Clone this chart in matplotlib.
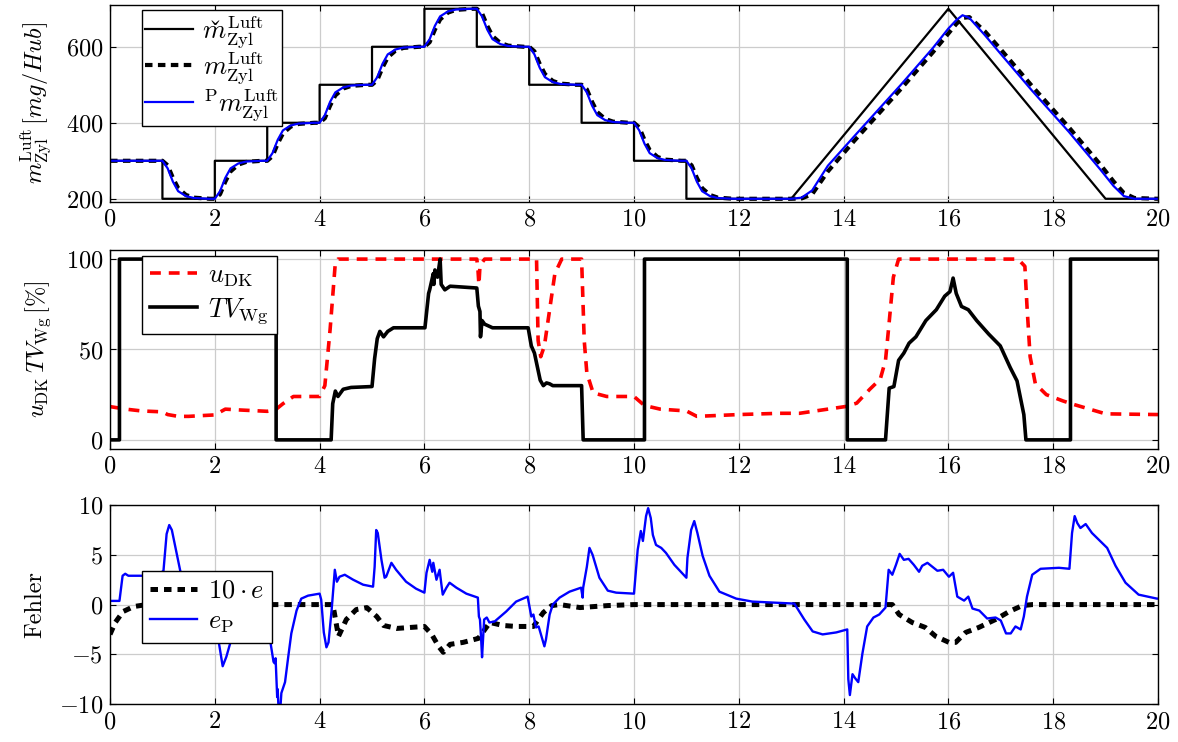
import matplotlib
matplotlib.use("Agg")
import matplotlib.pyplot as plt

plt.rcParams.update({
    "font.family": "serif",
    "font.serif": ["cmr10"],
    "mathtext.fontset": "cm",
    "axes.formatter.use_mathtext": True,
    "font.size": 17.5,
    "axes.linewidth": 1.0,
    "xtick.direction": "in",
    "ytick.direction": "in",
    "xtick.top": True,
    "ytick.right": True,
    "xtick.major.size": 4,
    "ytick.major.size": 4,
    "legend.fancybox": False,
    "legend.framealpha": 1.0,
    "legend.edgecolor": "black",
})

# --- air mass per stroke [mg/Hub] ---
t_soll = [0, 1, 1, 2, 2, 3, 3, 4, 4, 5, 5, 6, 6, 7, 7, 8, 8, 9, 9, 10, 10, 11, 11, 13, 16, 19, 20]
m_soll = [300, 300, 200, 200, 300, 300, 400, 400, 500, 500, 600, 600, 700, 700, 600, 600,
          500, 500, 400, 400, 300, 300, 200, 200, 700, 200, 200]

t_m = [0,
       1.0, 1.1, 1.2, 1.3, 1.45, 1.6, 1.9,
       2.0, 2.1, 2.2, 2.3, 2.45, 2.6, 2.9,
       3.0, 3.1, 3.2, 3.3, 3.45, 3.6, 3.9,
       4.0, 4.1, 4.2, 4.3, 4.45, 4.6, 4.9,
       5.0, 5.1, 5.2, 5.3, 5.45, 5.6, 5.9,
       6.0, 6.1, 6.2, 6.3, 6.45, 6.6, 6.9,
       7.0, 7.1, 7.2, 7.3, 7.45, 7.6, 7.9,
       8.0, 8.1, 8.2, 8.3, 8.45, 8.6, 8.9,
       9.0, 9.1, 9.2, 9.3, 9.45, 9.6, 9.9,
       10.0, 10.1, 10.2, 10.3, 10.45, 10.6, 10.9,
       11.0, 11.1, 11.2, 11.3, 11.45, 11.6, 11.9,
       13.0, 13.2, 13.4, 13.7, 14.2, 15.1, 15.7, 16.0, 16.15, 16.27, 16.4, 16.7,
       17.0, 17.6, 18.3, 18.9, 19.15, 19.35, 19.55, 20.0]
m_ist = [300,
         300, 288, 255, 228, 210, 203, 200,
         200, 212, 245, 272, 290, 297, 300,
         300, 312, 345, 372, 390, 397, 400,
         400, 412, 445, 472, 490, 497, 500,
         500, 512, 545, 572, 590, 597, 600,
         600, 612, 645, 672, 690, 697, 700,
         700, 688, 655, 628, 610, 603, 600,
         600, 588, 555, 528, 510, 503, 500,
         500, 488, 455, 428, 410, 403, 400,
         400, 388, 355, 328, 310, 303, 300,
         300, 288, 255, 228, 210, 203, 200,
         200, 201, 212, 272, 352, 490, 585, 635, 660, 676, 678, 640,
         593, 496, 388, 290, 246, 215, 202, 200]
m_modell = [300,
            300, 280, 245, 220, 207, 202, 200,
            200, 220, 255, 280, 293, 298, 300,
            300, 320, 355, 380, 393, 398, 400,
            400, 420, 455, 480, 493, 498, 500,
            500, 520, 555, 580, 593, 598, 600,
            600, 620, 655, 680, 693, 698, 700,
            700, 680, 645, 620, 607, 602, 600,
            600, 580, 545, 520, 507, 502, 500,
            500, 480, 445, 420, 407, 402, 400,
            400, 380, 345, 320, 307, 302, 300,
            300, 280, 245, 220, 207, 202, 200,
            200, 203, 222, 287, 364, 501, 596, 648, 670, 683, 676, 630,
            581, 484, 376, 277, 234, 207, 200, 200]

# --- throttle and wastegate [%] ---
t_tv = [0, 0.18, 0.18, 3.17, 3.17, 4.22, 4.25, 4.3, 4.35, 4.45, 4.6, 5.0, 5.05, 5.1, 5.15,
        5.22, 5.3, 5.41, 6.01, 6.08, 6.1, 6.17, 6.18, 6.2, 6.25, 6.3, 6.32, 6.39, 6.49,
        7.0, 7.03, 7.06, 7.07, 7.1, 7.15, 7.3, 7.98, 8.04, 8.1, 8.21, 8.27, 8.33, 8.39,
        8.45, 9.0, 9.03, 10.2, 10.2, 14.07, 14.07, 14.8, 14.87, 14.96, 15.05, 15.15,
        15.25, 15.38, 15.57, 15.77, 15.93, 16.03, 16.09, 16.15, 16.25, 16.38, 16.54,
        16.77, 16.99, 17.18, 17.31, 17.44, 17.48, 18.33, 18.33, 20]
tv_wg = [0, 0, 100, 100, 0, 0, 20, 27, 24, 28, 29, 29.5, 45, 56, 60,
         57, 60, 62, 62, 81, 83, 92, 86, 94, 90, 100, 86, 83, 85,
         84, 74, 71, 57, 66, 64, 62, 62, 52, 48, 33, 30, 31.5, 31,
         30, 30, 0, 0, 100, 100, 0, 0, 28.6, 29.5, 44, 48,
         53.5, 57, 66, 72, 79.5, 82, 89.5, 81, 73.8, 72, 66,
         58.5, 52, 40, 32.6, 14, 0, 0, 100, 100]

t_dk = [0, 0.3, 0.6, 1.0, 1.1, 1.3, 1.5, 1.8, 2.0, 2.2, 2.5, 3.0, 3.15, 3.3, 3.5, 4.0,
        4.1, 4.2, 4.3, 4.35, 7.0, 7.02, 7.04, 7.06, 7.1, 7.15, 8.14, 8.17, 8.22, 8.29,
        8.4, 8.49, 8.62, 9.0, 9.05, 9.1, 9.22, 9.48, 10.0, 10.2, 10.5, 11.0, 11.2, 12.0,
        12.78, 13.16, 14.05, 14.25, 14.5, 14.7, 14.8, 14.86, 14.95, 15.05, 17.33, 17.46,
        17.5, 17.56, 17.66, 17.87, 18.19, 18.38, 19.0, 20]
u_dk = [18.4, 17, 16, 15.5, 14, 13, 13, 13.5, 13.8, 17, 16.5, 15.8, 16.5, 20, 24, 24,
        30, 61, 98, 100, 100, 95, 86, 96, 98, 100, 100, 55, 46, 52,
        74, 92, 100, 100, 55, 37, 26, 24, 24, 19, 17, 16, 13, 14,
        14.7, 14.7, 18.5, 20.3, 28, 33.6, 44, 62, 90, 100, 100, 96,
        74, 46, 31, 25, 21.5, 19.7, 14.4, 14]

# --- errors ---
t_e = [0, 0.1, 0.25, 0.45, 0.7, 4.25, 4.28, 4.36, 4.51, 4.7, 4.9, 5.09, 5.22, 5.47, 5.73,
       6.0, 6.14, 6.27, 6.36, 6.49, 6.74, 7.03, 7.25, 7.5, 7.75, 8.08, 8.27, 8.43, 8.58,
       8.97, 9.5, 10.0, 14.93, 15.06, 15.31, 15.56, 15.76, 16.01, 16.14, 16.33, 16.58,
       16.9, 17.16, 17.41, 17.6, 20]
e_10 = [-3.0, -1.8, -0.7, -0.2, 0, 0, -0.8, -3.2, -1.5, -0.5, -0.3, -1.2, -2.1, -2.4, -2.3,
        -2.2, -3.0, -4.2, -4.8, -4.0, -3.8, -3.4, -1.8, -2.1, -2.2, -2.2, -0.8, -0.1, 0,
        -0.3, -0.1, 0, 0, -1.0, -1.8, -2.3, -3.2, -3.8, -3.8, -2.8, -2.3,
        -1.5, -0.7, -0.1, 0, 0]

t_ep = [0, 0.18, 0.24, 0.29, 0.35, 0.6, 0.9, 1.02, 1.08, 1.13, 1.18, 1.34, 1.5, 1.7, 1.9,
        2.0, 2.07, 2.15, 2.22, 2.32, 2.5, 2.8, 3.05, 3.12, 3.14, 3.16, 3.19, 3.2, 3.22,
        3.25, 3.27, 3.34, 3.4, 3.46, 3.56, 3.65, 3.78, 4.0, 4.03, 4.08, 4.13, 4.17, 4.23,
        4.29, 4.33, 4.38, 4.48, 4.64, 4.83, 5.02, 5.05, 5.08, 5.11, 5.18, 5.24, 5.27,
        5.37, 5.46, 5.65, 5.84, 6.0, 6.04, 6.1, 6.15, 6.17, 6.23, 6.26, 6.29, 6.32, 6.35,
        6.42, 6.48, 6.61, 6.8, 7.02, 7.04, 7.06, 7.08, 7.1, 7.14, 7.19, 7.24, 7.34, 7.56,
        7.75, 7.97, 8.04, 8.08, 8.13, 8.18, 8.29, 8.32, 8.39, 8.45, 8.58, 8.77, 8.99,
        9.02, 9.03, 9.1, 9.15, 9.21, 9.34, 9.5, 9.66, 10.0, 10.07, 10.13, 10.17, 10.23,
        10.27, 10.32, 10.36, 10.42, 10.52, 10.61, 10.77, 11.0, 11.02, 11.09, 11.15,
        11.21, 11.31, 11.44, 11.63, 11.95, 12.26, 13.06, 13.25, 13.41, 13.6, 13.86,
        14.07, 14.09, 14.12, 14.17, 14.22, 14.28, 14.36, 14.45, 14.57, 14.68, 14.8,
        14.86, 14.93, 15.0, 15.07, 15.15, 15.24, 15.34, 15.44, 15.5, 15.6, 15.79, 15.9,
        16.01, 16.09, 16.17, 16.3, 16.38, 16.46, 16.59, 16.74, 16.9, 17.0, 17.1, 17.19,
        17.28, 17.38, 17.44, 17.5, 17.6, 17.76, 18.11, 18.31, 18.36, 18.41, 18.46,
        18.52, 18.62, 18.74, 19.03, 19.19, 19.38, 19.63, 19.98, 20]
e_p = [0.37, 0.37, 2.9, 3.1, 2.9, 2.9, 2.9, 3.4, 7.1, 8.0, 7.5, 3.4, 1.5, 0, -1.5,
       -2.5, -3.6, -6.2, -5.25, -3.4, -2.5, -2.6, -3.4, -5.75, -5.9, -5.4, -9.3, -8.5, -11,
       -10.5, -8.9, -7.8, -5.3, -2.9, -0.6, 0.6, 0.9, 1.1, 0.5, -2.8, -4.3, -3.8, -0.5,
       3.5, 2.3, 2.8, 3.0, 2.5, 2.0, 1.8, 3.8, 7.5, 7.2, 4.5, 2.7, 2.8,
       4.2, 3.5, 2.3, 1.6, 1.2, 3.2, 4.5, 3.3, 4.2, 2.5, 3.0, 3.5, 2.2, 1.0,
       1.7, 2.2, 1.7, 1.1, 0.7, -1.2, -1.5, -3.2, -5.3, -1.5, -1.3, -1.8, -1.7, -0.7,
       0.3, 0.8, -1.2, -1.0, -2.3, -2.2, -4.2, -3.5, -1.0, 0, 0.7, 1.3, 1.7,
       0.7, 1.7, 3.8, 5.7, 5.0, 2.7, 1.4, 1.2, 1.1, 5.5, 7.4, 6.4, 8.9,
       9.7, 8.7, 7.0, 6.0, 5.7, 5.2, 4.0, 2.7, 4.7, 7.5, 8.4,
       7.2, 4.9, 2.9, 1.3, 0.6, 0.3, 0.1, -1.5, -2.7, -3.0, -2.8,
       -2.5, -7.5, -9.1, -7.0, -7.4, -7.8, -4.9, -2.2, -1.3, -1.0, -0.3,
       3.5, 3.0, 4.0, 5.1, 4.5, 4.6, 4.0, 3.3, 3.9, 4.2, 3.4, 3.5,
       2.8, 3.2, 0.8, 0.4, 0.8, -0.4, -0.6, -1.4, -1.3, -1.6, -2.9, -2.9,
       -2.2, -2.5, -1.2, 0.8, 3.0, 3.6, 3.7, 3.6, 7.2, 8.9, 8.2,
       7.7, 8.1, 7.2, 5.7, 3.9, 2.2, 1.0, 0.6, 0.6]

fig = plt.figure(figsize=(11.78, 7.42), dpi=100)
left, width = 0.0934, 0.8896
ax1 = fig.add_axes([left, 0.728, width, 0.2653])
ax2 = fig.add_axes([left, 0.395, width, 0.268])
ax3 = fig.add_axes([left, 0.0512, width, 0.268])

leg_kw = dict(loc="upper left", borderaxespad=0, handlelength=1.8, fontsize=19,
              handletextpad=0.4)

# caron over m: spacing caron, then pull the m back underneath it
ax1.plot(t_soll, m_soll, color="black", lw=1.6,
         label=r"$\hspace{0.31}\mathrm{ˇ}\hspace{-0.69}m_{\mathrm{Zyl}}^{\mathrm{Luft}}$")
ax1.plot(t_m, m_ist, color="black", lw=3.0, ls=(0, (1.8, 1.3)), label=r"$m_{\mathrm{Zyl}}^{\mathrm{Luft}}$")
ax1.plot(t_m, m_modell, color="blue", lw=1.6, label=r"${}^{\mathrm{P}}m_{\mathrm{Zyl}}^{\mathrm{Luft}}$")
ax1.set_ylim(192, 710)
ax1.set_yticks([200, 400, 600])
ax1.set_ylabel(r"$m_{\mathrm{Zyl}}^{\mathrm{Luft}}\,[mg/Hub]$", labelpad=9)
ax1.legend(bbox_to_anchor=(0.0305, 0.975), borderpad=0.12, labelspacing=0.0, **leg_kw)

ax2.plot(t_dk, u_dk, color="red", lw=2.6, ls=(0, (3, 2.2)), label=r"$u_{\mathrm{DK}}$")
ax2.plot(t_tv, tv_wg, color="black", lw=2.6, label=r"$TV_{\mathrm{Wg}}$")
ax2.set_ylim(-5, 105)
ax2.set_yticks([0, 50, 100])
ax2.set_ylabel(r"$u_{\mathrm{DK}}\,TV_{\mathrm{Wg}}\,[\%]$", labelpad=9)
ax2.legend(bbox_to_anchor=(0.0305, 0.97), borderpad=0.3, labelspacing=0.25, **leg_kw)

ax3.plot(t_e, e_10, color="black", lw=3.6, ls=(0, (1.5, 1.2)), label=r"$10\cdot e$")
ax3.plot(t_ep, e_p, color="blue", lw=1.7, label=r"$e_{\mathrm{P}}$")
ax3.set_ylim(-10, 10)
ax3.set_yticks([-10, -5, 0, 5, 10])
ax3.set_ylabel("Fehler", labelpad=9)
ax3.legend(bbox_to_anchor=(0.0305, 0.668), borderpad=0.3, labelspacing=0.25, **leg_kw)

for ax in (ax1, ax2, ax3):
    ax.set_xlim(0, 20)
    ax.set_xticks(range(0, 21, 2))
    ax.grid(True, color="#cccccc", lw=0.9)
    ax.set_axisbelow(True)
    ax.tick_params(pad=5, width=0.8)

fig.savefig("out.png", dpi=100)
